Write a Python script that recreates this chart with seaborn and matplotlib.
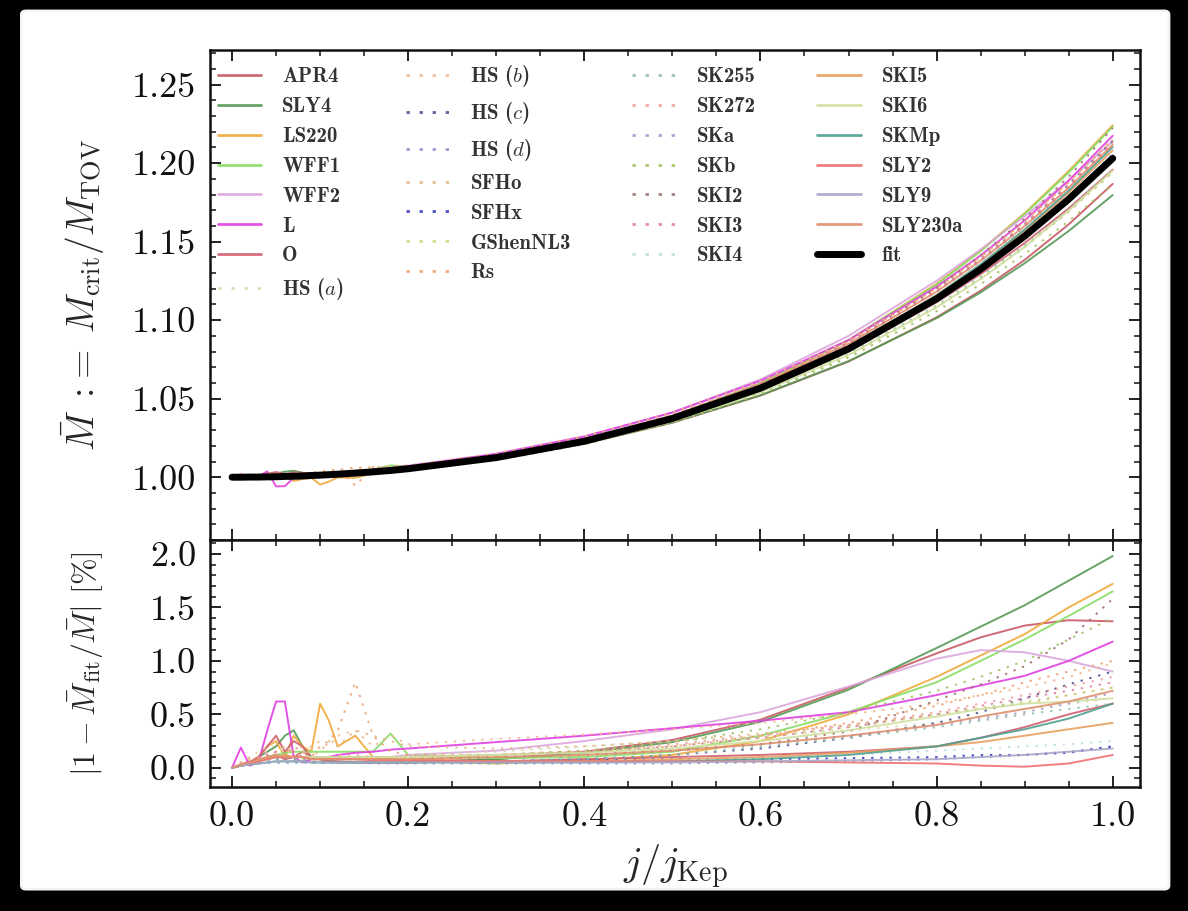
import matplotlib
matplotlib.use("Agg")
import numpy as np
import pandas as pd
import seaborn as sns
import matplotlib.pyplot as plt
from matplotlib.patches import FancyBboxPatch
from matplotlib.ticker import MultipleLocator, FormatStrFormatter

# ---------------- data ----------------
j_grid = [0.00, 0.01, 0.02, 0.03, 0.04, 0.05, 0.06, 0.07, 0.08, 0.09, 0.10, 0.11, 0.12,
          0.14, 0.16, 0.18, 0.20, 0.30, 0.40, 0.50, 0.60, 0.70, 0.80, 0.85, 0.90, 0.95, 1.00]

fit_values = [1.0000, 1.0000, 1.0001, 1.0001, 1.0002, 1.0003, 1.0005, 1.0006, 1.0008, 1.0011,
              1.0013, 1.0016, 1.0019, 1.0026, 1.0034, 1.0043, 1.0054, 1.0125, 1.0229, 1.0374,
              1.0567, 1.0817, 1.1136, 1.1324, 1.1535, 1.1770, 1.2030]

eos_names = ["APR4", "SLY4", "LS220", "WFF1", "WFF2", "L", "O", "HS ($a$)",
             "HS ($b$)", "HS ($c$)", "HS ($d$)", "SFHo", "SFHx", "GShenNL3", "Rs",
             "SK255", "SK272", "SKa", "SKb", "SKI2", "SKI3", "SKI4",
             "SKI5", "SKI6", "SKMp", "SLY2", "SLY9", "SLY230a"]

eos_colors = ["#c85a64", "#559955", "#f0aa3c", "#88dd66", "#dca6dc", "#e040e0", "#d06070", "#d8d8b0",
              "#f0b890", "#505090", "#9090d0", "#e0b888", "#3c3cc8", "#c8dc80", "#f0a070",
              "#90c0b0", "#f0a0a0", "#a898d0", "#a0c060", "#a07070", "#e080a0", "#b8e0e0",
              "#e8a060", "#d0e0a0", "#50a090", "#f07070", "#a8a8c8", "#e09070"]

eos_styles = ["solid"] * 7 + ["dotted"] * 15 + ["solid"] * 6

# signed relative deviation of each EOS from the fit, in percent
res_APR4 = [0, .03, .06, .05, .1, .12, .08, .1, .15, .1, .08, .07, .06, .05, .05, .05, .05,
            -.08, -.15, -.26, -.45, -.75, -1.07, -1.22, -1.33, -1.38, -1.37]
res_SLY4 = [0, .02, .05, .1, .15, .2, .3, .35, .2, .1, .08, .06, .05, .05, .05, .05, .05,
            -.08, -.14, -.24, -.43, -.73, -1.12, -1.32, -1.52, -1.75, -1.98]
res_LS220 = [0, .02, .05, .1, .2, .25, .1, -.3, -.2, -.15, -.6, -.44, -.2, -.3, -.1, -.08, -.06,
             .04, .07, .12, .25, .5, .85, 1.05, 1.25, 1.5, 1.72]
res_WFF1 = [0, .02, .04, .06, .1, .12, .14, .15, .15, .15, .15, .15, .15, .15, .15, .32, .12,
            .09, .1, .15, .3, .52, .8, 1.0, 1.2, 1.42, 1.65]
res_WFF2 = [0, .02, .04, .06, .08, .1, .1, .1, .1, .1, .1, .1, .1, .1, .1, .1, .12,
            .16, .25, .36, .52, .76, 1.02, 1.1, 1.08, 1.0, .9]
res_L = [0, .19, .02, .05, .35, -.62, -.62, -.1, .05, .08, .1, .1, .12, .14, .15, .17, .18,
         .24, .3, .37, .44, .52, .68, .77, .86, 1.0, 1.18]
res_O = [0, .03, .05, .1, .2, .3, .15, .25, .2, .1, .08, .06, .05, .05, .05, .05, .05,
         -.06, -.08, -.1, -.12, -.15, -.2, -.28, -.38, -.5, -.6]
res_HSa = [0, .05, .1, .15, .2, .2, .15, .2, .15, .1, .1, .1, .1, .1, .1, .1, .12,
           .15, .2, .25, .3, .35, .42, .48, .55, .6, .65]
res_HSb = [0, .05, .1, .1, .1, .15, .2, .1, .15, .2, .25, .2, .3, .35, .2, .3, .22,
           .27, .31, .36, .42, .5, .6, .68, .75, .85, .98]
res_HSc = [0, .02, .05, .05, .05, .08, .1, .08, .06, .05, .05, .05, .05, .05, .05, .05, .05,
           .06, .08, .12, .18, .28, .42, .52, .65, .78, .9]
res_HSd = [0, .02, .03, .04, .05, .05, .05, .05, .05, .05, .05, .05, .05, .05, .04, .04, .04,
           .04, .04, .04, .05, .06, .08, .1, .12, .15, .2]
res_SFHo = [0, .05, .08, .1, .12, .15, .2, .15, .1, .12, .15, .25, .2, .35, .3, .25, .2,
            -.18, -.2, -.25, -.32, -.4, -.5, -.55, -.6, -.68, -.75]
res_SFHx = [0, .02, .03, .05, .05, .05, .05, .05, .05, .05, .05, .05, .05, .05, .05, .05, .05,
            .06, .07, .08, .08, .09, .1, .12, .12, .14, .2]
res_GShenNL3 = [0, .03, .05, .1, .08, .1, .12, .1, .08, .1, .1, .1, .1, .1, .1, .1, .1,
                -.12, -.15, -.2, -.28, -.38, -.5, -.56, -.62, -.68, -.75]
res_Rs = [0, .03, .05, .08, .1, .12, .1, .15, .2, .1, .2, .25, .35, -.8, .3, .15, .12,
          .12, .15, .2, .3, .42, .58, .68, .8, .9, 1.0]
res_SK255 = [0, .02, .03, .05, .06, .08, .1, .08, .06, .05, .05, .05, .05, .05, .05, .05, .05,
             -.06, -.08, -.12, -.2, -.28, -.38, -.44, -.5, -.55, -.6]
res_SK272 = [0, .03, .05, .1, .15, .1, .12, .2, .15, .1, .1, .1, .12, .12, .1, .1, .1,
             .12, .16, .22, .3, .4, .52, .6, .68, .76, .85]
res_SKa = [0, .02, .04, .06, .08, .1, .1, .1, .08, .08, .08, .08, .08, .08, .08, .08, .08,
           .1, .12, .16, .22, .3, .4, .46, .52, .6, .7]
res_SKb = [0, .02, .04, .06, .08, .1, .12, .1, .1, .1, .1, .1, .1, .1, .1, .1, .1,
           -.12, -.16, -.24, -.36, -.52, -.72, -.85, -1.0, -1.2, -1.4]
res_SKI2 = [0, .02, .04, .06, .08, .1, .1, .1, .1, .08, .08, .08, .08, .08, .08, .08, .08,
            .1, .12, .16, .22, .34, .63, .78, .95, 1.2, 1.58]
res_SKI3 = [0, .03, .05, .1, .12, .15, .12, .15, .1, .1, .1, .1, .1, .1, .1, .1, .1,
            .12, .15, .2, .28, .38, .5, .58, .65, .72, .8]
res_SKI4 = [0, .02, .04, .05, .05, .05, .05, .05, .05, .05, .05, .05, .05, .05, .05, .05, .05,
            .05, .06, .07, .09, .12, .16, .18, .2, .22, .25]
res_SKI5 = [0, .02, .04, .06, .08, .1, .12, .1, .1, .08, .08, .08, .08, .08, .08, .08, .08,
            .06, .06, .08, .1, .14, .2, .24, .3, .36, .42]
res_SKI6 = [0, .02, .04, .06, .08, .1, .1, .1, .1, .1, .1, .1, .1, .1, .1, .1, .1,
            -.12, -.14, -.18, -.25, -.35, -.48, -.55, -.6, -.62, -.65]
res_SKMp = [0, .02, .03, .04, .05, .06, .06, .06, .06, .05, .05, .05, .05, .05, .05, .05, .05,
            .05, .05, .06, .08, .12, .2, .28, .36, .46, .6]
res_SLY2 = [0, .02, .04, .06, .08, .1, .1, .1, .1, .08, .08, .08, .08, .08, .07, .07, .07,
            .06, .06, .06, .06, .05, .04, .02, -.01, .04, .12]
res_SLY9 = [0, .02, .03, .04, .05, .06, .06, .06, .06, .05, .05, .05, .05, .05, .05, .05, .05,
            .05, .05, .05, .06, .07, .08, .1, .12, .15, .18]
res_SLY230a = [0, .03, .05, .08, .1, .12, .1, .1, .1, .08, .08, .08, .08, .08, .08, .08, .08,
               .1, .12, .16, .22, .3, .4, .48, .55, .62, .72]

residuals = [res_APR4, res_SLY4, res_LS220, res_WFF1, res_WFF2, res_L, res_O, res_HSa,
             res_HSb, res_HSc, res_HSd, res_SFHo, res_SFHx, res_GShenNL3, res_Rs,
             res_SK255, res_SK272, res_SKa, res_SKb, res_SKI2, res_SKI3, res_SKI4,
             res_SKI5, res_SKI6, res_SKMp, res_SLY2, res_SLY9, res_SLY230a]

# ---------------- style ----------------
sns.set_theme(style="ticks")
plt.rcParams.update({
    "font.family": "serif",
    "font.serif": ["cmr10", "DejaVu Serif"],
    "mathtext.fontset": "cm",
    "axes.formatter.use_mathtext": True,
    "axes.unicode_minus": False,
    "xtick.direction": "in",
    "ytick.direction": "in",
    "xtick.top": True,
    "ytick.right": True,
    "xtick.major.size": 8,
    "ytick.major.size": 8,
    "xtick.minor.size": 4,
    "ytick.minor.size": 4,
    "xtick.major.width": 1.3,
    "ytick.major.width": 1.3,
    "xtick.minor.width": 1.1,
    "ytick.minor.width": 1.1,
    "axes.linewidth": 1.8,
    "axes.edgecolor": "#111111",
    "text.color": "#222222",
    "xtick.color": "#111111",
    "ytick.color": "#111111",
})

fig = plt.figure(figsize=(11.88, 9.11), dpi=100)
fig.patch.set_facecolor("black")
paper = FancyBboxPatch((0.018, 0.024), 0.966, 0.964, boxstyle="round,pad=0,rounding_size=0.004",
                       transform=fig.transFigure, facecolor="white", edgecolor="#f4f4f4",
                       linewidth=2, zorder=-10)
fig.patches.append(paper)

ax1 = fig.add_axes([0.1768, 0.4072, 0.7828, 0.5379])
ax2 = fig.add_axes([0.1768, 0.1361, 0.7828, 0.2711], sharex=ax1)
for ax in (ax1, ax2):
    ax.set_facecolor("white")

j = np.array(j_grid)
fit = np.array(fit_values)
dash_map = {"solid": "-", "dotted": (0, (1.2, 3.5))}

for name, col, sty, res in zip(eos_names, eos_colors, eos_styles, residuals):
    r = np.array(res)
    mbar = fit / (1.0 - r / 100.0)
    sns.lineplot(x=j, y=mbar, ax=ax1, color=col, linestyle=dash_map[sty], lw=1.4,
                 alpha=0.9, label=name, sort=False, estimator=None)
    sns.lineplot(x=j, y=np.abs(r), ax=ax2, color=col, linestyle=dash_map[sty], lw=1.4,
                 alpha=0.9, legend=False, sort=False, estimator=None)

sns.lineplot(x=j, y=fit, ax=ax1, color="black", lw=5, label="fit", zorder=10,
             sort=False, estimator=None)

# axes limits / ticks
ax1.set_xlim(-0.025, 1.031)
ax1.set_ylim(0.96, 1.272)
ax2.set_ylim(-0.18, 2.13)

ax1.tick_params(axis="x", labelbottom=False)
for ax in (ax1, ax2):
    ax.tick_params(which="both", top=True, right=True, direction="in", labelsize=26, pad=10)
    ax.minorticks_on()
ax1.xaxis.set_major_locator(MultipleLocator(0.2))
ax1.xaxis.set_minor_locator(MultipleLocator(0.05))
ax1.yaxis.set_major_locator(MultipleLocator(0.05))
ax1.yaxis.set_minor_locator(MultipleLocator(0.01))
ax1.yaxis.set_major_formatter(FormatStrFormatter("%.2f"))
ax2.yaxis.set_major_locator(MultipleLocator(0.5))
ax2.yaxis.set_minor_locator(MultipleLocator(0.1))
ax2.yaxis.set_major_formatter(FormatStrFormatter("%.1f"))
ax2.xaxis.set_major_formatter(FormatStrFormatter("%.1f"))

ax1.set_xlabel("")
ax1.set_ylabel(r"$\bar{M}\ {:}\!{=}\ M_{\rm crit}/M_{\rm TOV}$", fontsize=27, labelpad=14)
ax2.set_ylabel(r"$|1-\bar{M}_{\rm fit}/\bar{M}|\ [\%]$", fontsize=23, labelpad=14)
ax2.set_xlabel(r"$j/j_{\rm Kep}$", fontsize=29, labelpad=7)
ax1.yaxis.set_label_coords(-0.112, 0.5)
ax2.yaxis.set_label_coords(-0.112, 0.5)

leg = ax1.legend(ncol=4, loc="upper left", bbox_to_anchor=(-0.012, 1.011), frameon=False,
                 prop={"family": "cmb10", "size": 15}, handlelength=2.1, handletextpad=1.0,
                 columnspacing=2.95, labelspacing=0.52)
for txt in leg.get_texts():
    txt.set_color("#333333")
for line in leg.get_lines():
    line.set_linewidth(2.0)
leg.get_lines()[-1].set_linewidth(5)

fig.savefig("out.png", dpi=100, facecolor=fig.get_facecolor())
